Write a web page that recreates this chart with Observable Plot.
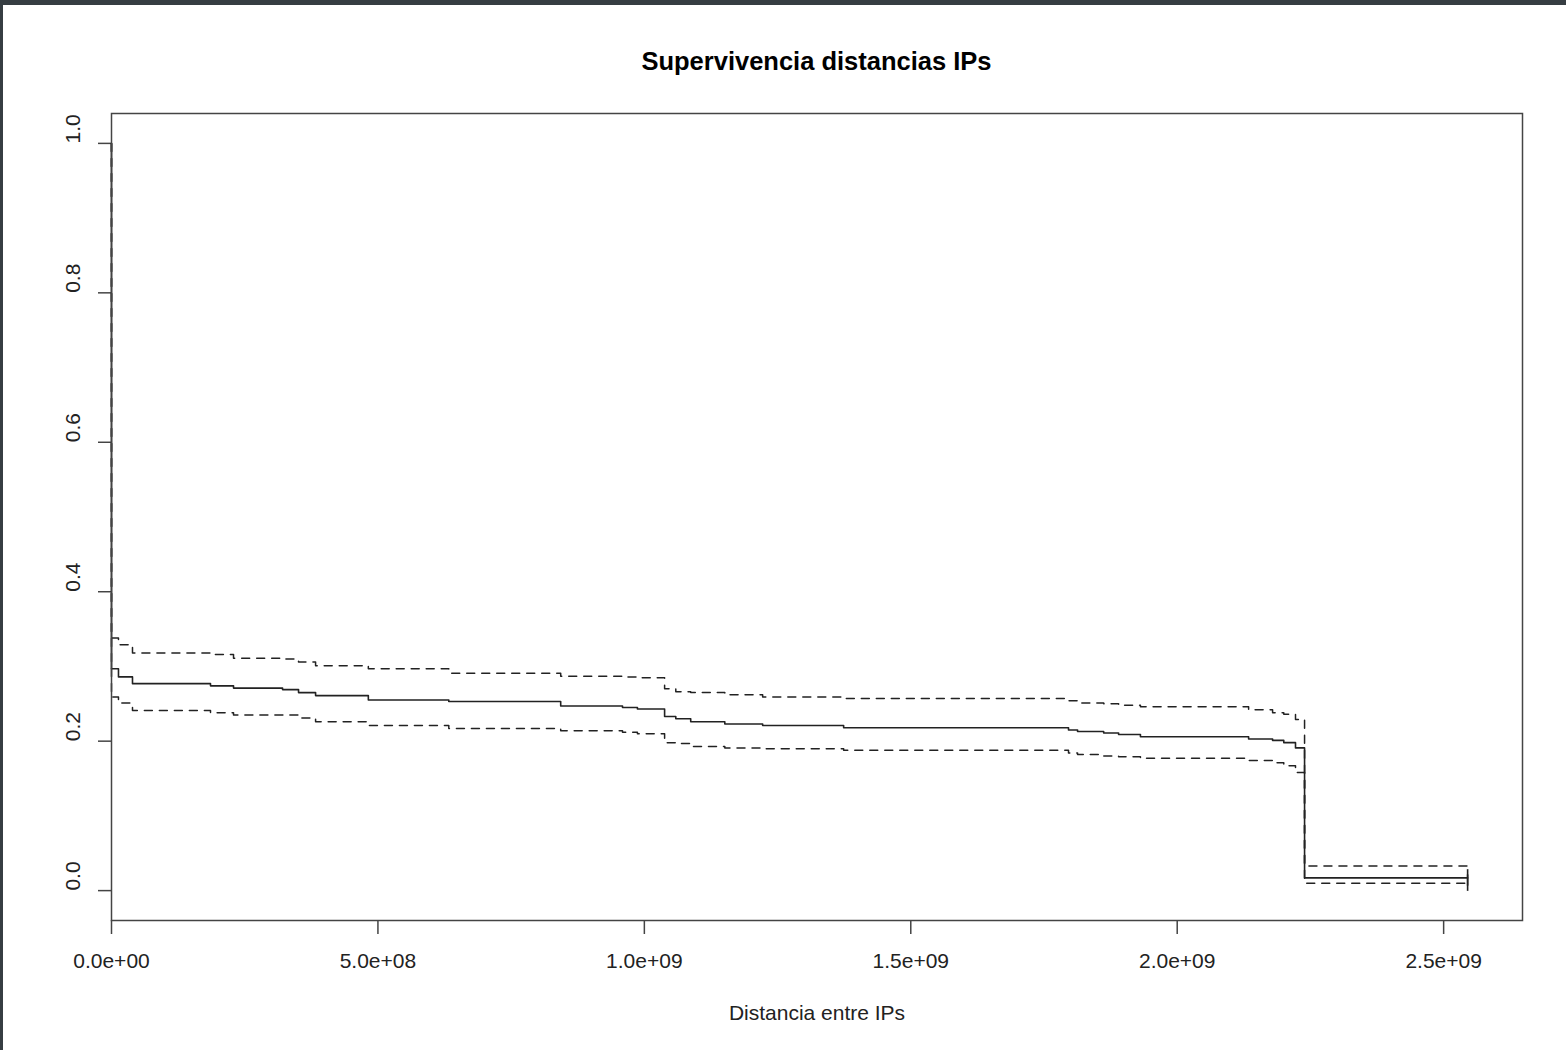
<!DOCTYPE html>
<html><head><meta charset="utf-8">
<script src="https://cdn.jsdelivr.net/npm/d3@7"></script>
<script src="https://cdn.jsdelivr.net/npm/@observablehq/plot@0.6"></script>
<style>
html,body{margin:0;padding:0;background:#363d42;width:1566px;height:1050px;overflow:hidden}
#page{position:absolute;left:3px;top:5px;width:1563px;height:1045px;background:#fff;font-family:"Liberation Sans",Arial,sans-serif}
#title{box-sizing:border-box;height:72px;padding-top:41px;line-height:30px;margin-left:108px;width:1411px;text-align:center;font-weight:bold;font-size:25.5px;color:#000}
#chart svg{display:block}
</style></head>
<body><div id="page"><div id="title">Supervivencia distancias IPs</div><div id="chart"></div></div>
<script>
// Kaplan-Meier step curve: event times and survival estimates with 95% CI
const times = [0, 0, 1.31e7, 3.94e7, 1.858e8, 2.29e8, 3.21e8, 3.51e8, 3.83e8, 4.82e8, 6.33e8, 8.43e8, 9.59e8, 9.87e8, 1.038e9, 1.059e9, 1.087e9, 1.151e9, 1.222e9, 1.374e9, 1.796e9, 1.813e9, 1.862e9, 1.890e9, 1.931e9, 2.134e9, 2.179e9, 2.200e9, 2.222e9, 2.239e9, 2.545e9];
const surv  = [1.0, 0.297, 0.286, 0.277, 0.274, 0.271, 0.269, 0.265, 0.261, 0.255, 0.253, 0.247, 0.245, 0.243, 0.233, 0.230, 0.226, 0.223, 0.221, 0.218, 0.215, 0.213, 0.211, 0.209, 0.206, 0.203, 0.201, 0.198, 0.191, 0.017, 0.017];
const upper = [1.0, 0.338, 0.329, 0.318, 0.316, 0.311, 0.310, 0.306, 0.301, 0.297, 0.291, 0.287, 0.286, 0.285, 0.270, 0.266, 0.265, 0.262, 0.259, 0.257, 0.254, 0.251, 0.250, 0.248, 0.246, 0.242, 0.238, 0.236, 0.229, 0.033, 0.033];
const lower = [1.0, 0.259, 0.251, 0.241, 0.238, 0.235, 0.235, 0.231, 0.226, 0.221, 0.217, 0.214, 0.212, 0.210, 0.198, 0.197, 0.193, 0.191, 0.190, 0.188, 0.184, 0.182, 0.180, 0.179, 0.177, 0.174, 0.171, 0.167, 0.158, 0.010, 0.010];
const censorTime = 2.545e9;
const censorValues = [0.017, 0.010];
const censorHalf = 0.011;

const xTicks = [0, 5e8, 1e9, 1.5e9, 2e9, 2.5e9];
const xTickLabels = ["0.0e+00", "5.0e+08", "1.0e+09", "1.5e+09", "2.0e+09", "2.5e+09"];
const yTicks = [0, 0.2, 0.4, 0.6, 0.8, 1.0];
const yTickLabels = ["0.0", "0.2", "0.4", "0.6", "0.8", "1.0"];
const xLabel = "Distancia entre IPs";

const rows = times.map((t, i) => ({t, s: surv[i], u: upper[i], l: lower[i]}));
const censor = censorValues.map(v => ({t: censorTime, v}));
const xt = xTicks.map((v, i) => ({v, label: xTickLabels[i]}));
const yt = yTicks.map((v, i) => ({v, label: yTickLabels[i]}));

const ink = "#222";
const chart = Plot.plot({
  width: 1563, height: 973,
  marginTop: 36, marginRight: 44, marginBottom: 130, marginLeft: 108,
  x: {domain: [0, 2.648e9]},
  y: {domain: [-0.04, 1.04]},
  style: {fontFamily: '"Liberation Sans", Arial, sans-serif', fontSize: "21px", background: "#fff", color: ink},
  marks: [
    Plot.axisX(xTicks, {tickSize: 14, tickFormat: () => "", stroke: "#444", strokeWidth: 1.5, label: null}),
    Plot.axisY(yTicks, {tickSize: 13, tickFormat: () => "", stroke: "#444", strokeWidth: 1.5, label: null}),
    Plot.text(xt, {x: "v", text: "label", frameAnchor: "bottom", dy: 47, fill: ink, fontSize: 21}),
    Plot.text(yt, {y: "v", text: "label", frameAnchor: "left", dx: -38, rotate: -90, fill: ink, fontSize: 21}),
    Plot.text([xLabel], {text: d => d, frameAnchor: "bottom", dy: 99, fill: ink, fontSize: 21}),
    Plot.line(rows, {x: "t", y: "u", curve: "step-after", stroke: ink, strokeWidth: 1.5, strokeDasharray: "8,7"}),
    Plot.line(rows, {x: "t", y: "l", curve: "step-after", stroke: ink, strokeWidth: 1.5, strokeDasharray: "8,7"}),
    Plot.line(rows, {x: "t", y: "s", curve: "step-after", stroke: ink, strokeWidth: 1.6}),
    Plot.ruleX(censor, {x: "t", y1: d => d.v - censorHalf, y2: d => d.v + censorHalf, stroke: ink, strokeWidth: 1.6}),
    Plot.frame({stroke: "#444", strokeWidth: 1.5})
  ]
});
document.getElementById("chart").appendChild(chart);
</script>
</body></html>
